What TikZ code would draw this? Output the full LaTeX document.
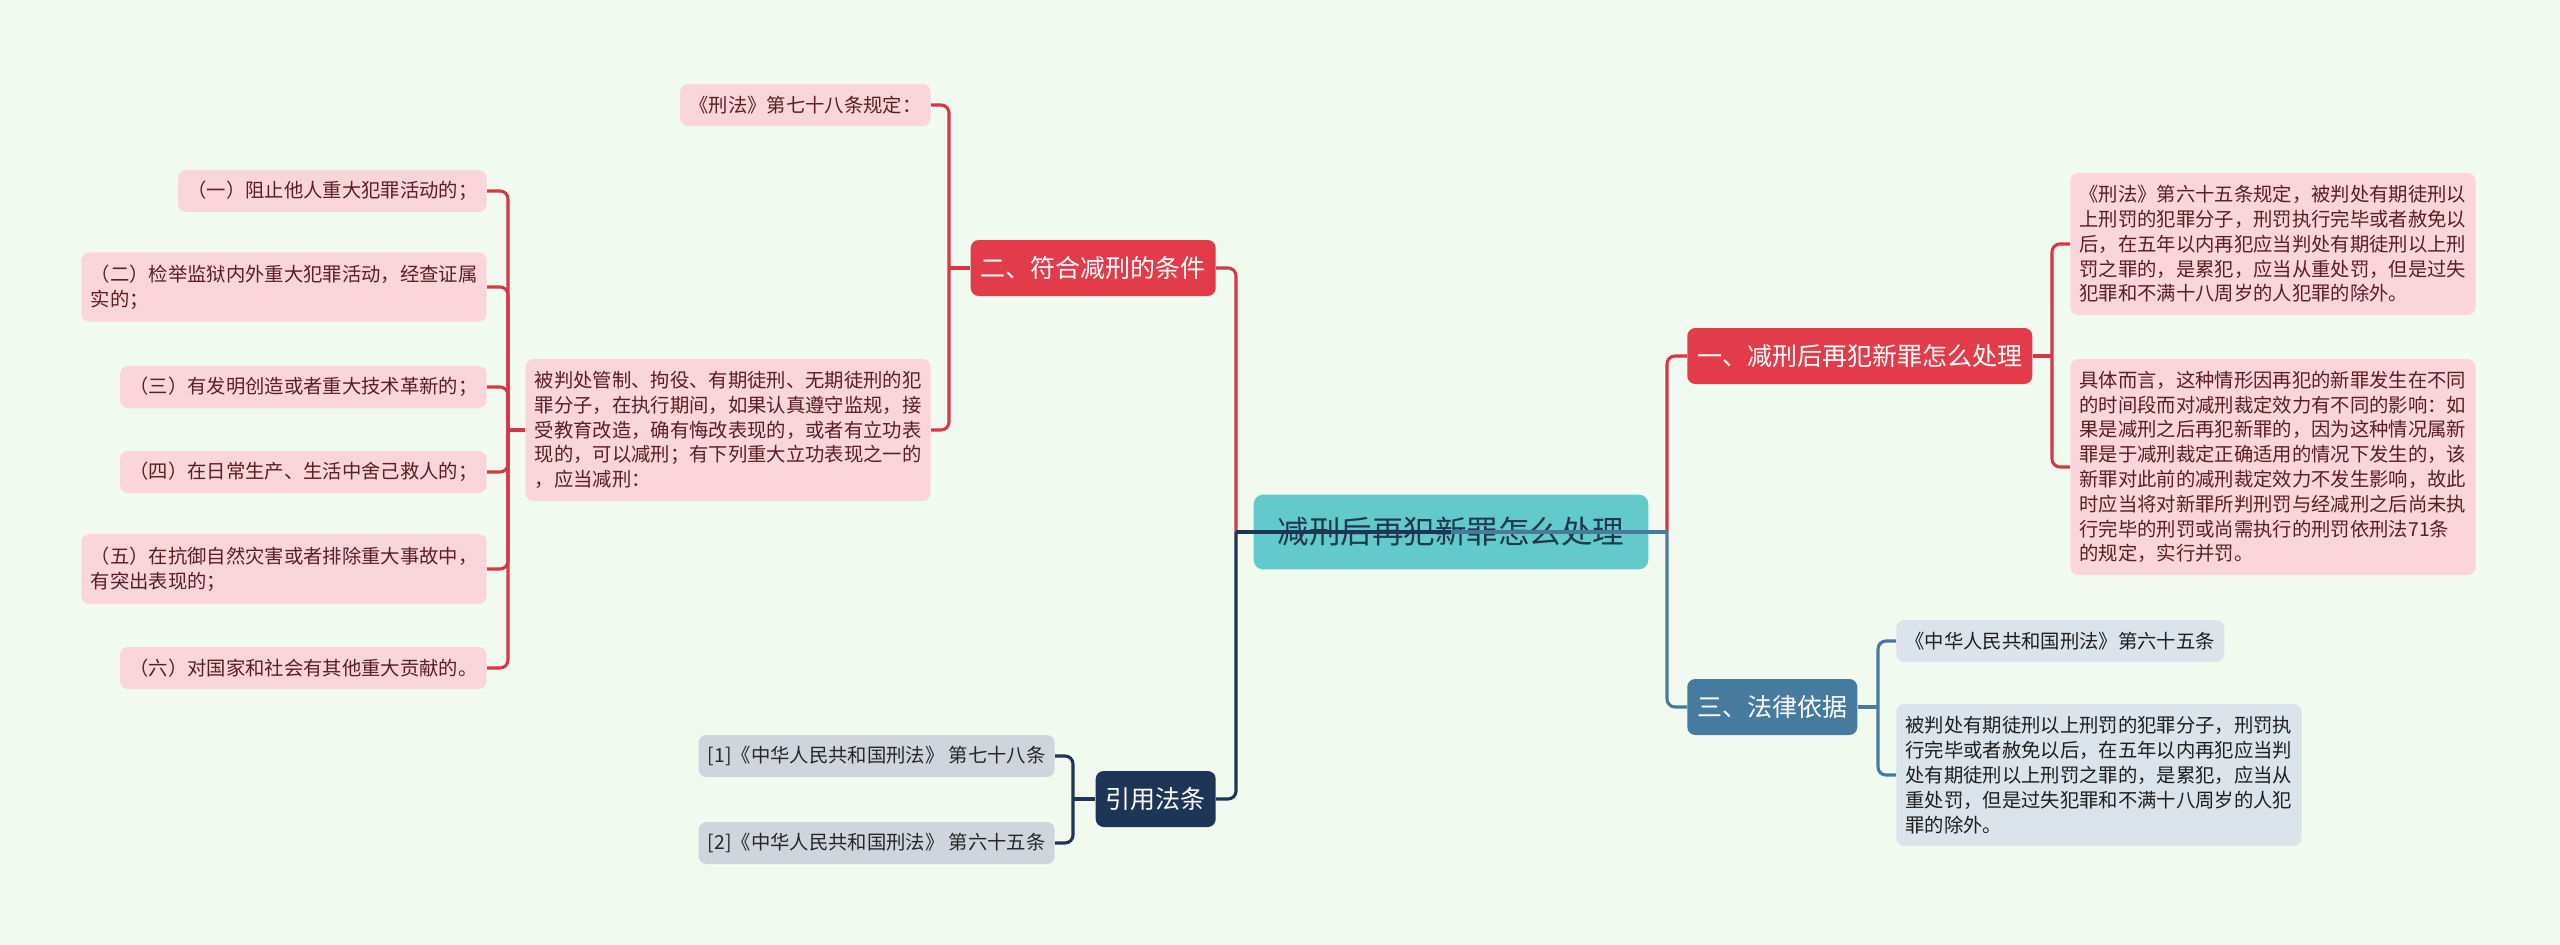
\documentclass[tikz,border=0pt]{standalone}
\usepackage{fontspec}
\newfontfamily\cjk{Noto Sans CJK SC}
\definecolor{bgc}{HTML}{F0FAEF}
\definecolor{redc}{HTML}{E23B4A}
\definecolor{redl}{HTML}{D63646}
\definecolor{pinkc}{HTML}{FAD6DA}
\definecolor{pinkt}{HTML}{5A1E24}
\definecolor{tealc}{HTML}{63CACC}
\definecolor{roott}{HTML}{1E3A4C}
\definecolor{navyc}{HTML}{1D3557}
\definecolor{grayc}{HTML}{D0D5DD}
\definecolor{grayt}{HTML}{262626}
\definecolor{steelc}{HTML}{467A9E}
\definecolor{lbluec}{HTML}{DCE4EB}
\definecolor{lbluet}{HTML}{1E1E1E}
\pgfdeclarelayer{bglayer}
\pgfdeclarelayer{connlayer}
\pgfsetlayers{bglayer,connlayer,main}
\begin{document}
\begin{tikzpicture}[x=0.75pt,y=-0.75pt,
 body/.style={font=\cjk\fontsize{14.5pt}{18.6pt}\selectfont, rounded corners=6pt, inner xsep=7pt, inner ysep=0pt, align=left, minimum height=31.5pt},
 pinkbox/.style={body, fill=pinkc, text=pinkt},
 graybox/.style={body, fill=grayc, text=grayt},
 bluebox/.style={body, fill=lbluec, text=lbluet},
 lvl/.style={font=\cjk\fontsize{18.75pt}{22pt}\selectfont, rounded corners=6pt, inner xsep=7.5pt, inner ysep=0pt, minimum height=42pt, text=white},
 rootbox/.style={font=\cjk\fontsize{23.6pt}{27pt}\selectfont, rounded corners=7pt, fill=tealc, text=roott, minimum width=296pt, minimum height=56pt, inner sep=0pt},
 conn/.style={line width=2.3pt, rounded corners=6pt},
]
\begin{pgfonlayer}{bglayer}
\fill[bgc] (0,0) rectangle (2560,945);
\end{pgfonlayer}
\useasboundingbox (0,0) rectangle (2560,945);

% root
\node[rootbox] (root) at (1451,532) {减刑后再犯新罪怎么处理};

% level 1
\node[lvl, fill=redc, anchor=east] (n2) at (1216,268) {二、符合减刑的条件};
\node[lvl, fill=navyc, anchor=east] (cite) at (1216,799) {引用法条};
\node[lvl, fill=redc, anchor=west] (n1) at (1687,356) {一、减刑后再犯新罪怎么处理};
\node[lvl, fill=steelc, anchor=west] (n3) at (1687,707) {三、法律依据};

% children of n2
\node[pinkbox, anchor=east] (law78) at (931,105) {《刑法》第七十八条规定：};
\node[pinkbox, anchor=east, minimum height=106.5pt] (cond) at (931,430) {被判处管制、拘役、有期徒刑、无期徒刑的犯\\罪分子，在执行期间，如果认真遵守监规，接\\受教育改造，确有悔改表现的，或者有立功表\\现的，可以减刑；有下列重大立功表现之一的\\，应当减刑：};

% children of cond
\node[pinkbox, anchor=east] (i1) at (487,191) {（一）阻止他人重大犯罪活动的；};
\node[pinkbox, anchor=east, minimum height=52pt] (i2) at (487,287) {（二）检举监狱内外重大犯罪活动，经查证属\\实的；};
\node[pinkbox, anchor=east] (i3) at (487,387) {（三）有发明创造或者重大技术革新的；};
\node[pinkbox, anchor=east] (i4) at (487,472) {（四）在日常生产、生活中舍己救人的；};
\node[pinkbox, anchor=east, minimum height=52.5pt] (i5) at (487,569) {（五）在抗御自然灾害或者排除重大事故中，\\有突出表现的；};
\node[pinkbox, anchor=east] (i6) at (487,668) {（六）对国家和社会有其他重大贡献的。};

% children of cite
\node[graybox, anchor=east] (r1) at (1055,756) {[1]《中华人民共和国刑法》 第七十八条};
\node[graybox, anchor=east] (r2) at (1055,843) {[2]《中华人民共和国刑法》 第六十五条};

% children of n1
\node[pinkbox, anchor=west, minimum height=106.5pt] (a1) at (2070,244) {《刑法》第六十五条规定，被判处有期徒刑以\\上刑罚的犯罪分子，刑罚执行完毕或者赦免以\\后，在五年以内再犯应当判处有期徒刑以上刑\\罚之罪的，是累犯，应当从重处罚，但是过失\\犯罪和不满十八周岁的人犯罪的除外。};
\node[pinkbox, anchor=west, minimum height=162pt] (a2) at (2070,467) {具体而言，这种情形因再犯的新罪发生在不同\\的时间段而对减刑裁定效力有不同的影响：如\\果是减刑之后再犯新罪的，因为这种情况属新\\罪是于减刑裁定正确适用的情况下发生的，该\\新罪对此前的减刑裁定效力不发生影响，故此\\时应当将对新罪所判刑罚与经减刑之后尚未执\\行完毕的刑罚或尚需执行的刑罚依刑法71条\\的规定，实行并罚。};

% children of n3
\node[bluebox, anchor=west] (b1) at (1896,641) {《中华人民共和国刑法》第六十五条};
\node[bluebox, anchor=west, minimum height=106.5pt] (b2) at (1896,775) {被判处有期徒刑以上刑罚的犯罪分子，刑罚执\\行完毕或者赦免以后，在五年以内再犯应当判\\处有期徒刑以上刑罚之罪的，是累犯，应当从\\重处罚，但是过失犯罪和不满十八周岁的人犯\\罪的除外。};

% junction coordinates
\coordinate (lj) at (1236,532);
\coordinate (rj) at (1667,532);
\coordinate (j2) at (949,268);
\coordinate (jc) at (508,430);
\coordinate (jr) at (1073,799);
\coordinate (j1) at (2052,356);
\coordinate (j3) at (1878,707);

\begin{pgfonlayer}{connlayer}
\draw[conn, redl] (lj) |- (n2.east);
\draw[conn, navyc] (lj) |- (cite.east);
\draw[conn, redl] (rj) |- (n1.west);
\draw[conn, steelc] (rj) |- (n3.west);

\draw[conn, redl] (n2.west) -- (j2);
\draw[conn, redl] (j2) |- (law78.east);
\draw[conn, redl] (j2) |- (cond.east);

\draw[conn, redl] (cond.west) -- (jc);
\foreach \c in {i1,i2,i3,i4,i5,i6} {\draw[conn, redl] (jc) |- (\c.east);}

\draw[conn, navyc] (cite.west) -- (jr);
\draw[conn, navyc] (jr) |- (r1.east);
\draw[conn, navyc] (jr) |- (r2.east);

\draw[conn, redl] (n1.east) -- (j1);
\draw[conn, redl] (j1) |- (a1.west);
\draw[conn, redl] (j1) |- (a2.west);

\draw[conn, steelc] (n3.east) -- (j3);
\draw[conn, steelc] (j3) |- (b1.west);
\draw[conn, steelc] (j3) |- (b2.west);
\end{pgfonlayer}

% root stubs drawn over the root node
\draw[conn, navyc] (root.center) -- (lj);
\draw[conn, steelc] (root.center) -- (rj);
\end{tikzpicture}
\end{document}
